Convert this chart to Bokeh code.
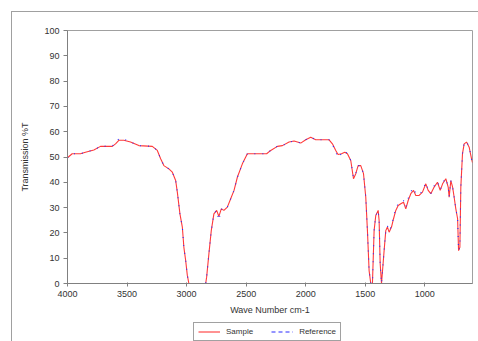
from bokeh.plotting import figure
from bokeh.models import Range1d, FixedTicker, Legend, LegendItem
from bokeh.layouts import column
from bokeh.embed import file_html
from bokeh.resources import INLINE

# Wave numbers (cm-1)
wavenumber = [4000, 3961, 3891, 3849, 3779, 3723, 3624, 3597, 3569, 3527, 3471, 3401, 3288,
              3246, 3218, 3191, 3149, 3120, 3092, 3078, 3056, 3036, 3023, 3008, 2994, 2981,
              2900, 2840, 2832, 2813, 2793, 2771, 2748, 2729, 2709, 2687, 2658, 2630, 2602,
              2574, 2532, 2490, 2406, 2328, 2294, 2238, 2196, 2140, 2098, 2042, 2000, 1958,
              1916, 1860, 1804, 1776, 1748, 1729, 1700, 1672, 1650, 1622, 1599, 1580, 1560,
              1538, 1515, 1496, 1482, 1468, 1454, 1440, 1426, 1412, 1392, 1384, 1375, 1364,
              1353, 1342, 1328, 1314, 1300, 1280, 1263, 1244, 1224, 1202, 1179, 1160, 1140,
              1118, 1095, 1076, 1048, 1020, 992, 972, 950, 922, 894, 871, 851, 824, 804, 796,
              782, 767, 754, 740, 725, 717, 706, 698, 684, 670, 650, 628, 608, 600]

# Sample transmission (%T)
sample = [49.7, 51.3, 51.3, 51.9, 52.8, 54.2, 54.2, 55.2, 56.6, 56.6, 55.9, 54.5, 54.2,
          52.6, 49.3, 46.6, 45.3, 44.0, 40.7, 36.1, 27.5, 22.3, 14.3, 9.1, 3.2, 0.0,
          0.0, 0.0, 2.5, 11.7, 20.9, 27.5, 28.9, 26.5, 29.5, 28.9, 30.2, 33.5, 36.8,
          42.0, 47.3, 51.3, 51.3, 51.3, 52.6, 54.2, 54.5, 55.9, 56.3, 55.5, 56.8, 57.8,
          56.8, 56.8, 56.8, 55.2, 52.6, 51.0, 51.3, 51.9, 51.3, 48.6, 41.4, 43.4, 46.6,
          46.6, 43.4, 34.1, 20.9, 5.1, 0.0, 0.0, 20.9, 26.9, 28.9, 24.9, 7.8, 0.0,
          6.4, 13.0, 20.9, 22.3, 20.3, 22.3, 25.6, 28.9, 30.8, 31.5, 32.1, 29.5, 32.8,
          35.5, 36.8, 34.8, 34.8, 36.1, 39.4, 36.8, 35.5, 38.1, 40.0, 36.8, 39.4, 41.4, 38.1, 34.1,
          40.7, 38.1, 34.1, 29.5, 25.6, 13.0, 14.3, 38.1, 51.3, 55.2, 55.9, 53.9, 49.3, 47.8]

# Reference transmission (%T)
reference = [49.7, 51.3, 51.3, 51.9, 52.8, 54.2, 54.4, 55.4, 57.2, 57.1, 55.9, 54.5, 54.2,
             52.6, 49.3, 46.6, 45.3, 44.0, 40.7, 36.1, 27.5, 22.3, 14.3, 9.1, 3.2, 0.0,
             0.0, 0.0, 2.5, 11.7, 20.9, 27.5, 28.9, 25.0, 29.5, 28.9, 30.2, 33.5, 36.8,
             42.0, 47.3, 51.3, 51.3, 51.3, 52.6, 54.2, 54.5, 55.9, 56.3, 55.5, 56.8, 57.8,
             56.8, 56.8, 56.8, 55.0, 52.0, 49.8, 51.3, 52.4, 51.3, 48.6, 41.8, 43.4, 46.6,
             46.6, 43.4, 34.1, 20.9, 5.1, 0.0, 0.0, 20.9, 26.9, 28.9, 24.9, 7.8, 0.0,
             6.4, 13.0, 20.9, 22.8, 20.8, 22.8, 26.2, 29.6, 31.6, 32.5, 32.7, 30.2, 33.6,
             36.3, 37.8, 35.5, 35.2, 36.6, 39.9, 37.0, 35.5, 38.6, 40.3, 37.0, 39.8, 41.6, 38.1, 34.1,
             40.7, 38.1, 34.1, 29.5, 25.6, 13.0, 14.3, 38.1, 51.3, 55.8, 56.1, 53.9, 49.3, 47.8]

series_names = ["Sample", "Reference"]
series_colors = ["#ff3a3a", "#2a2aff"]

x_ticks = [4000, 3500, 3000, 2500, 2000, 1500, 1000]
y_ticks = [0, 10, 20, 30, 40, 50, 60, 70, 80, 90, 100]

FONT = "Liberation Sans"
TXT = "#333333"
EDGE = "#a0a0a0"

# ---------------- main chart ----------------
p = figure(width=478, height=318, output_backend="svg", toolbar_location=None,
           x_range=Range1d(4000, 600), y_range=Range1d(0, 100),
           min_border_left=67, min_border_top=30, min_border_right=6, min_border_bottom=35)
p.border_fill_alpha = 0.0
p.xgrid.visible = False
p.ygrid.visible = False
p.outline_line_color = EDGE
p.outline_line_width = 1
p.background_fill_color = "white"

r2 = p.line(wavenumber, reference, line_color=series_colors[1], line_width=1.1, line_dash="1 7")
r1 = p.line(wavenumber, sample, line_color=series_colors[0], line_width=1.1)
p.renderers = [r1, r2]

p.xaxis.ticker = FixedTicker(ticks=x_ticks)
p.yaxis.ticker = FixedTicker(ticks=y_ticks)
for ax in (p.xaxis[0], p.yaxis[0]):
    ax.axis_line_color = "#808080"
    ax.major_tick_line_color = "#808080"
    ax.minor_tick_line_color = None
    ax.major_label_text_font = FONT
    ax.major_label_text_font_size = "9px"
    ax.major_label_text_color = TXT
    ax.axis_label_text_font = FONT
    ax.axis_label_text_font_size = "9px"
    ax.axis_label_text_color = TXT
    ax.axis_label_text_font_style = "normal"
p.xaxis.major_tick_in = 1
p.xaxis.major_tick_out = 3
p.yaxis.major_tick_in = 0
p.yaxis.major_tick_out = 4
p.xaxis.major_label_standoff = 4
p.yaxis.major_label_standoff = 4
p.xaxis.axis_label = "Wave Number cm-1"
p.yaxis.axis_label = "Transmission %T"
p.xaxis.axis_label_standoff = 5
p.yaxis.axis_label_standoff = 11

# ---------------- legend strip (frame aligned with the chart frame) ----------------
lf = figure(width=478, height=23, output_backend="svg", toolbar_location=None,
            x_range=Range1d(0, 1), y_range=Range1d(0, 1),
            min_border_left=0, min_border_right=0, min_border_top=0, min_border_bottom=0)
lf.axis.visible = False
lf.grid.visible = False
lf.outline_line_color = None
lf.background_fill_alpha = 0.0
lf.border_fill_alpha = 0.0
# key renderers: same series, drawn out of this strip's range (only their legend swatches show)
k1 = lf.line(wavenumber, sample, line_color=series_colors[0], line_width=1.1)
k2 = lf.line(wavenumber, reference, line_color=series_colors[1], line_width=1.1, line_dash="4 3")

legend = Legend(items=[LegendItem(label=series_names[0], renderers=[k1]),
                       LegendItem(label=series_names[1], renderers=[k2])],
                orientation="horizontal", location=(126, 0),
                label_text_font=FONT, label_text_font_size="8px", label_text_color=TXT,
                glyph_width=22, glyph_height=9, label_height=9, label_standoff=6,
                spacing=18, padding=4, margin=0,
                border_line_color="#444444", border_line_width=1,
                background_fill_color="white", background_fill_alpha=1.0)
lf.add_layout(legend, "center")

layout = column(p, lf, spacing=0)
layout.styles = {
    "background-color": "white",
    "background-image": f"linear-gradient({EDGE},{EDGE}), linear-gradient({EDGE},{EDGE})",
    "background-size": "467px 1px, 1px 330px",
    "background-position": "11px 11px, 11px 11px",
    "background-repeat": "no-repeat",
}

open("out.html", "w").write(file_html(layout, INLINE))
